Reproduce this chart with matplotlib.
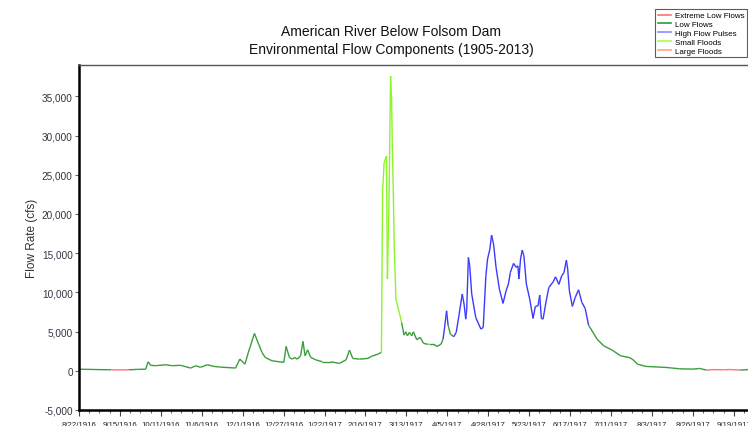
import numpy as np
import matplotlib
matplotlib.use("Agg")
import matplotlib.pyplot as plt
from matplotlib.collections import LineCollection
from matplotlib.lines import Line2D
from matplotlib.ticker import FuncFormatter, MultipleLocator

plt.rcParams['font.family'] = ['Liberation Sans', 'DejaVu Sans']

# days since 8/22/1916 (chart scale), flow in cfs, component code per point
# R = extreme low, L = low flow, H = high flow pulse, S = small flood, F = large flood
days = [0, 6, 12, 19.4, 24, 30, 35, 40, 41.5, 43, 46, 52, 56, 61, 67, 70, 73, 77, 81, 85,
        94, 96.5, 99.6, 101.7, 105.3, 107.8, 109.8, 111.8, 115.8, 122.9, 124.3, 126.3, 128,
        129.4, 131, 133, 134.4, 135.7, 137.2, 139.1, 142.1, 146.1, 151.2, 156.3, 160.3, 162.3,
        164.3, 168.4, 173.4, 175.4, 179.5, 181.5,
        182.2, 183.1, 184.5, 185.1, 186, 187, 187.6, 188, 188.6, 189.2, 190.2, 192.2,
        193.6, 195.1, 196.1, 197.1, 198.3, 199.7, 200.7, 202.7, 204.8, 206.8, 209.8, 212.9,
        214.9, 217.3, 218.5,
        219.3, 220.6,
        221.5, 222.9, 224.9,
        226.4, 228, 230, 231.1, 232.1, 232.7, 233.7, 234.5, 235.7, 238.1, 241.2, 242.6,
        244.2, 245.2, 246.6, 247.6, 248.8, 250.3, 252.3, 254.5, 256.3, 257.7, 258.9, 260.8,
        262.4, 263.4, 264, 265, 266, 267, 268.5, 270.5, 272.5, 273.9, 275.5, 276.5, 277.5,
        278.5, 280.6, 282, 284.6, 286, 288, 289.7, 291.1, 292.5, 293.3, 294.3, 296.1, 297.8,
        299.8, 301.8, 303.8,
        305.8, 310.9, 314.9, 320, 325, 330.1, 332.1, 335.2, 340.2, 352.3, 360.4, 368.5, 372.5,
        376.6, 381, 386.7, 391, 396.8,
        401, 405.9]

flow = [200, 180, 150, 130, 110, 130, 180, 200, 1150, 700, 650, 770, 650, 700, 350, 640, 450, 770, 560, 470,
        350, 1490, 850, 2380, 4770, 3400, 2350, 1700, 1280, 1070, 3110, 1700, 1490,
        1700, 1490, 1915, 3750, 1915, 2680, 1700, 1400, 1150, 1150, 940, 1400, 2640,
        1580, 1490, 1580, 1830, 2130, 2350,
        22800, 26500, 27400, 11700, 21000, 37600, 34600, 29200, 23200, 15900, 9150, 7450,
        6170, 4550, 4980, 4470, 4900, 4470, 4980, 3960, 4260, 3490, 3370, 3370,
        3110, 3400, 4040,
        5320, 7650,
        5830, 4680, 4340,
        4900, 7020, 9780, 8500, 6590, 7870, 14460, 13390, 9780, 6810, 5320, 5530,
        12120, 14250, 15520, 17310, 16160, 13190, 10420, 8600, 10200, 11060, 12550, 13700,
        13190, 13390, 11700, 14250, 15400, 14670, 11060, 9150, 6680, 8210, 8290, 9660, 6680,
        6590, 9150, 10640, 11350, 11990, 11020, 12120, 12550, 14120, 12970, 10200, 8210, 9360,
        10330, 8720, 7950,
        5830, 4040, 3190, 2640, 1910, 1700, 1490, 850, 560, 430, 255, 215, 300,
        90, 150, 130, 160, 90,
        150, 180]

comp = (['L'] * 3 + ['R'] * 3 + ['L'] * 46 +
        ['S'] * 12 +
        ['L'] * 15 +
        ['H'] * 2 +
        ['L'] * 3 +
        ['H'] * 53 +
        ['L'] * 13 +
        ['R'] * 5 +
        ['L'] * 2)

comp_names = ['Extreme Low Flows', 'Low Flows', 'High Flow Pulses', 'Small Floods', 'Large Floods']
comp_codes = ['R', 'L', 'H', 'S', 'F']
comp_colors = ['#ff7070', '#3a9e3a', '#3a3aff', '#8cf52a', '#ff9a66']
legend_colors = ['#ff7070', '#2e9a2e', '#8a8aff', '#a6ff4d', '#ffa47a']

tick_labels = ['8/22/1916', '9/15/1916', '10/11/1916', '11/6/1916', '12/1/1916', '12/27/1916',
               '1/22/1917', '2/16/1917', '3/13/1917', '4/5/1917', '4/28/1917', '5/23/1917',
               '6/17/1917', '7/11/1917', '8/3/1917', '8/26/1917', '9/19/1917']

fig = plt.figure(figsize=(7.48, 4.27), dpi=100)
ax = fig.add_axes([79 / 748, 1 - 411 / 427, 1 - 79 / 748 + 0.01, (411 - 66) / 427])

# build coloured segments, each one takes the component of its higher end
color_of = dict(zip(comp_codes, comp_colors))
segs, cols = [], []
for i in range(len(days) - 1):
    a, b = comp[i], comp[i + 1]
    c = a if flow[i] >= flow[i + 1] else b
    segs.append([(days[i], flow[i]), (days[i + 1], flow[i + 1])])
    cols.append(color_of[c])
ax.add_collection(LineCollection(segs, colors=cols, linewidths=1.0))

ax.set_xlim(0, 406)
ax.set_ylim(-5000, 39000)

step = 393 / 16
ax.set_xticks([i * step for i in range(17)])
ax.set_xticklabels(tick_labels, fontsize=5.6, color='#222222')
ax.xaxis.set_minor_locator(MultipleLocator(step / 4))
ax.yaxis.set_major_locator(MultipleLocator(5000))
ax.yaxis.set_major_formatter(FuncFormatter(lambda v, p: f'{int(v):,}'))
ax.tick_params(axis='y', labelsize=7.2, labelcolor='#333344', length=3, width=0.8, pad=1.5,
               color='#666666')
ax.tick_params(axis='x', which='major', length=4, width=0.8, pad=4, color='#444444')
ax.tick_params(axis='x', which='minor', length=2, width=0.6, color='#444444')

for s in ['left', 'bottom']:
    ax.spines[s].set_linewidth(1.8)
    ax.spines[s].set_color('black')
ax.spines['top'].set_color('#555555')
ax.spines['top'].set_linewidth(1.0)
ax.spines['right'].set_visible(False)

ax.set_ylabel('Flow Rate (cfs)', fontsize=8.5, color='#333333', labelpad=3)

fig.text(391 / 748, 1 - 32 / 427, 'American River Below Folsom Dam', ha='center', va='center',
         fontsize=10, color='#111111')
fig.text(391 / 748, 1 - 50 / 427, 'Environmental Flow Components (1905-2013)', ha='center',
         va='center', fontsize=10, color='#111111')

handles = [Line2D([0], [0], color=c, lw=1.2) for c in legend_colors]
leg = fig.legend(handles, comp_names, loc='upper right', bbox_to_anchor=(747 / 748, 1 - 10 / 427),
                 fontsize=5.8, frameon=True, fancybox=False, handlelength=1.7,
                 handletextpad=0.4, labelspacing=0.14, borderpad=0.35, borderaxespad=0.0)
leg.get_frame().set_edgecolor('#333333')
leg.get_frame().set_linewidth(0.8)

fig.savefig('out.png', dpi=100)
